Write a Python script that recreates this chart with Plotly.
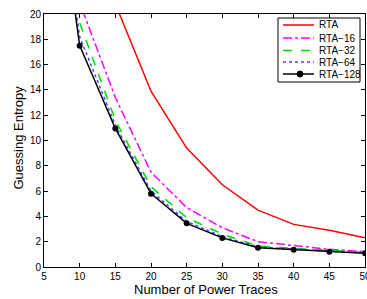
import plotly.graph_objects as go

traces_x = [5, 10, 15, 20, 25, 30, 35, 40, 45, 50]
rta = [46.0, 30.0, 20.8, 13.9, 9.4, 6.5, 4.5, 3.37, 2.9, 2.32]
rta16 = [40.0, 20.9, 13.4, 7.5, 4.7, 3.1, 2.0, 1.68, 1.4, 1.21]
rta32 = [39.0, 19.3, 11.6, 6.35, 3.9, 2.6, 1.65, 1.5, 1.3, 1.15]
rta64 = [38.5, 18.2, 11.2, 6.0, 3.6, 2.4, 1.58, 1.42, 1.24, 1.1]
rta128 = [38.0, 17.5, 10.95, 5.8, 3.45, 2.3, 1.53, 1.37, 1.21, 1.08]

x_ticks = [5, 10, 15, 20, 25, 30, 35, 40, 45, 50]
y_ticks = list(range(0, 21, 2))

series = [
    ("RTA", rta, "#ff0000", "solid", False),
    ("RTA\u221216", rta16, "#ff00ff", "dashdot", False),
    ("RTA\u221232", rta32, "#00dd00", "dash", False),
    ("RTA\u221264", rta64, "#4444ff", "dot", False),
    ("RTA\u2212128", rta128, "#000000", "solid", True),
]

W, H = 367, 299
ML, MR, MT, MB = 44, 2, 14, 32
PW, PH = W - ML - MR, H - MT - MB

def px(xp):
    return (xp - ML) / PW

def py(yp):
    return (H - MB - yp) / PH

fig = go.Figure()
for name, ys, color, dash, mk in series:
    fig.add_trace(go.Scatter(
        x=traces_x, y=ys, name=name,
        mode="lines+markers" if mk else "lines",
        line=dict(color=color, width=1.5, dash=dash),
        marker=dict(size=6, color=color, symbol="circle"),
        showlegend=False,
    ))

axis_common = dict(
    showline=True, linecolor="black", linewidth=1, mirror="ticks",
    ticks="inside", ticklen=4, tickcolor="black", showgrid=False, zeroline=False,
    automargin=False, ticklabeloverflow="allow",
    tickfont=dict(family="Liberation Sans, Arial", size=10, color="black"),
)

shapes = []
annotations = []

# axis titles
annotations.append(dict(text="Number of Power Traces", xref="paper", yref="paper",
                        x=px(206), y=py(289), xanchor="center", yanchor="middle",
                        showarrow=False, font=dict(size=13)))
annotations.append(dict(text="Guessing Entropy", xref="paper", yref="paper",
                        x=px(17.5), y=py(138), xanchor="center", yanchor="middle",
                        textangle=-90, showarrow=False, font=dict(size=13)))

# legend box
shapes.append(dict(type="rect", xref="paper", yref="paper",
                   x0=px(278), x1=px(360), y0=py(82), y1=py(18),
                   line=dict(color="black", width=1), fillcolor="white", layer="above"))
legend_y = [25, 38, 50.5, 62, 74]
for (name, ys, color, dash, mk), ly in zip(series, legend_y):
    shapes.append(dict(type="line", xref="paper", yref="paper",
                       x0=px(283), x1=px(314), y0=py(ly), y1=py(ly),
                       line=dict(color=color, width=1.5, dash=dash), layer="above"))
    if mk:
        shapes.append(dict(type="circle", xref="paper", yref="paper",
                           x0=px(297), x1=px(303), y0=py(ly + 3), y1=py(ly - 3),
                           line=dict(color=color, width=1), fillcolor=color, layer="above"))
    annotations.append(dict(text=name, xref="paper", yref="paper",
                            x=px(317), y=py(ly), xanchor="left", yanchor="middle",
                            showarrow=False, font=dict(size=10)))

fig.update_layout(
    width=W, height=H,
    margin=dict(l=ML, r=MR, t=MT, b=MB),
    paper_bgcolor="white", plot_bgcolor="white",
    font=dict(family="Liberation Sans, Arial", color="black"),
    xaxis=dict(range=[5, 50], tickvals=x_ticks, **axis_common),
    yaxis=dict(range=[0, 20], tickvals=y_ticks, **axis_common),
    shapes=shapes, annotations=annotations,
    showlegend=False,
)

fig.write_html("out.html", config={"displayModeBar": False},
               post_script="document.body.style.margin='0';document.body.style.overflow='hidden';")
